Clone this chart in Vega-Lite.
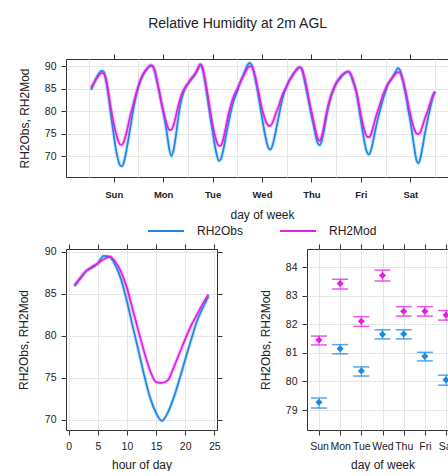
{
  "$schema": "https://vega.github.io/schema/vega-lite/v6.json",
  "padding": {"left": 16, "top": 17, "right": 0, "bottom": 0},
  "title": {"text": "Relative Humidity at 2m AGL", "fontSize": 14, "fontWeight": "normal", "color": "#222", "anchor": "middle", "offset": 22},
  "config": {
    "font": "Liberation Sans",
    "view": {"stroke": "#333", "strokeWidth": 1},
    "axis": {"domain": false, "tickColor": "#333", "tickSize": 5, "labelColor": "#222", "labelFontSize": 10.5, "titleFontSize": 12, "titleFontWeight": "normal", "titleColor": "#222", "gridColor": "#e6e6e6", "gridWidth": 1},
    "legend": {"orient": "bottom", "direction": "horizontal", "symbolType": "stroke", "symbolSize": 1296, "symbolStrokeWidth": 2, "symbolOpacity": 1, "labelFontSize": 12, "labelColor": "#222", "labelOffset": 12, "columnPadding": 32, "offset": -9, "padding": 0, "layout": {"anchor": "middle"}}
  },
  "datasets": {
    "week": [
      {"t":1,"RH2Obs":84.8,"RH2Mod":85.3},{"t":2,"RH2Obs":85.8,"RH2Mod":86.0},{"t":3,"RH2Obs":86.9,"RH2Mod":86.8},{"t":4,"RH2Obs":87.8,"RH2Mod":87.5},{"t":5,"RH2Obs":88.6,"RH2Mod":88.1},{"t":6,"RH2Obs":89.0,"RH2Mod":88.5},{"t":7,"RH2Obs":88.9,"RH2Mod":88.5},{"t":8,"RH2Obs":87.6,"RH2Mod":87.5},{"t":9,"RH2Obs":85.0,"RH2Mod":85.4},{"t":10,"RH2Obs":81.6,"RH2Mod":82.5},{"t":11,"RH2Obs":78.0,"RH2Mod":79.7},{"t":12,"RH2Obs":74.8,"RH2Mod":77.3},{"t":13,"RH2Obs":71.8,"RH2Mod":75.3},{"t":14,"RH2Obs":69.5,"RH2Mod":73.7},{"t":15,"RH2Obs":68.1,"RH2Mod":72.7},{"t":16,"RH2Obs":67.8,"RH2Mod":72.6},{"t":17,"RH2Obs":68.8,"RH2Mod":73.4},{"t":18,"RH2Obs":70.9,"RH2Mod":74.9},{"t":19,"RH2Obs":73.5,"RH2Mod":76.9},{"t":20,"RH2Obs":76.3,"RH2Mod":79.0},{"t":21,"RH2Obs":79.0,"RH2Mod":80.7},{"t":22,"RH2Obs":81.6,"RH2Mod":82.4},{"t":23,"RH2Obs":83.8,"RH2Mod":84.1},{"t":24,"RH2Obs":85.6,"RH2Mod":85.6},
      {"t":25,"RH2Obs":86.9,"RH2Mod":87.0},{"t":26,"RH2Obs":87.9,"RH2Mod":88.0},{"t":27,"RH2Obs":88.7,"RH2Mod":88.8},{"t":28,"RH2Obs":89.3,"RH2Mod":89.4},{"t":29,"RH2Obs":89.9,"RH2Mod":89.9},{"t":30,"RH2Obs":90.2,"RH2Mod":90.2},{"t":31,"RH2Obs":90.0,"RH2Mod":90.0},{"t":32,"RH2Obs":88.8,"RH2Mod":88.9},{"t":33,"RH2Obs":86.6,"RH2Mod":87.0},{"t":34,"RH2Obs":84.6,"RH2Mod":84.7},{"t":35,"RH2Obs":82.3,"RH2Mod":82.3},{"t":36,"RH2Obs":80.0,"RH2Mod":80.2},{"t":37,"RH2Obs":77.5,"RH2Mod":78.4},{"t":38,"RH2Obs":74.6,"RH2Mod":76.8},{"t":39,"RH2Obs":71.5,"RH2Mod":75.9},{"t":40,"RH2Obs":70.1,"RH2Mod":75.9},{"t":41,"RH2Obs":71.3,"RH2Mod":76.9},{"t":42,"RH2Obs":74.0,"RH2Mod":78.6},{"t":43,"RH2Obs":77.4,"RH2Mod":80.6},{"t":44,"RH2Obs":80.6,"RH2Mod":82.4},{"t":45,"RH2Obs":82.8,"RH2Mod":83.8},{"t":46,"RH2Obs":84.3,"RH2Mod":84.8},{"t":47,"RH2Obs":85.4,"RH2Mod":85.6},{"t":48,"RH2Obs":86.1,"RH2Mod":86.2},
      {"t":49,"RH2Obs":86.7,"RH2Mod":86.9},{"t":50,"RH2Obs":87.3,"RH2Mod":87.5},{"t":51,"RH2Obs":87.9,"RH2Mod":88.0},{"t":52,"RH2Obs":88.6,"RH2Mod":88.7},{"t":53,"RH2Obs":89.5,"RH2Mod":89.6},{"t":54,"RH2Obs":90.3,"RH2Mod":90.5},{"t":55,"RH2Obs":89.6,"RH2Mod":89.9},{"t":56,"RH2Obs":87.6,"RH2Mod":87.9},{"t":57,"RH2Obs":84.6,"RH2Mod":85.4},{"t":58,"RH2Obs":81.5,"RH2Mod":82.6},{"t":59,"RH2Obs":78.4,"RH2Mod":79.7},{"t":60,"RH2Obs":75.5,"RH2Mod":77.1},{"t":61,"RH2Obs":72.7,"RH2Mod":74.9},{"t":62,"RH2Obs":70.4,"RH2Mod":73.3},{"t":63,"RH2Obs":69.0,"RH2Mod":72.4},{"t":64,"RH2Obs":69.4,"RH2Mod":72.4},{"t":65,"RH2Obs":71.0,"RH2Mod":73.5},{"t":66,"RH2Obs":73.3,"RH2Mod":75.5},{"t":67,"RH2Obs":75.8,"RH2Mod":77.8},{"t":68,"RH2Obs":78.0,"RH2Mod":79.8},{"t":69,"RH2Obs":80.2,"RH2Mod":81.6},{"t":70,"RH2Obs":82.0,"RH2Mod":83.0},{"t":71,"RH2Obs":83.3,"RH2Mod":84.1},{"t":72,"RH2Obs":84.5,"RH2Mod":85.0},
      {"t":73,"RH2Obs":85.9,"RH2Mod":86.0},{"t":74,"RH2Obs":87.1,"RH2Mod":87.0},{"t":75,"RH2Obs":88.2,"RH2Mod":87.9},{"t":76,"RH2Obs":89.3,"RH2Mod":88.8},{"t":77,"RH2Obs":90.3,"RH2Mod":89.6},{"t":78,"RH2Obs":90.8,"RH2Mod":90.0},{"t":79,"RH2Obs":90.3,"RH2Mod":90.0},{"t":80,"RH2Obs":88.8,"RH2Mod":88.9},{"t":81,"RH2Obs":86.6,"RH2Mod":87.2},{"t":82,"RH2Obs":84.2,"RH2Mod":85.0},{"t":83,"RH2Obs":81.4,"RH2Mod":82.7},{"t":84,"RH2Obs":78.6,"RH2Mod":80.6},{"t":85,"RH2Obs":76.0,"RH2Mod":78.9},{"t":86,"RH2Obs":73.7,"RH2Mod":77.6},{"t":87,"RH2Obs":72.0,"RH2Mod":76.9},{"t":88,"RH2Obs":71.5,"RH2Mod":76.8},{"t":89,"RH2Obs":72.3,"RH2Mod":77.4},{"t":90,"RH2Obs":74.1,"RH2Mod":78.6},{"t":91,"RH2Obs":76.3,"RH2Mod":79.9},{"t":92,"RH2Obs":78.6,"RH2Mod":81.0},{"t":93,"RH2Obs":80.9,"RH2Mod":82.5},{"t":94,"RH2Obs":82.9,"RH2Mod":83.8},{"t":95,"RH2Obs":84.4,"RH2Mod":84.7},{"t":96,"RH2Obs":85.6,"RH2Mod":85.6},
      {"t":97,"RH2Obs":86.6,"RH2Mod":86.6},{"t":98,"RH2Obs":87.4,"RH2Mod":87.4},{"t":99,"RH2Obs":88.1,"RH2Mod":88.1},{"t":100,"RH2Obs":88.8,"RH2Mod":88.8},{"t":101,"RH2Obs":89.4,"RH2Mod":89.4},{"t":102,"RH2Obs":89.8,"RH2Mod":89.8},{"t":103,"RH2Obs":89.7,"RH2Mod":89.7},{"t":104,"RH2Obs":88.3,"RH2Mod":88.6},{"t":105,"RH2Obs":86.1,"RH2Mod":86.8},{"t":106,"RH2Obs":83.8,"RH2Mod":84.6},{"t":107,"RH2Obs":81.4,"RH2Mod":82.2},{"t":108,"RH2Obs":79.1,"RH2Mod":80.0},{"t":109,"RH2Obs":77.0,"RH2Mod":77.9},{"t":110,"RH2Obs":74.8,"RH2Mod":75.8},{"t":111,"RH2Obs":73.0,"RH2Mod":74.0},{"t":112,"RH2Obs":72.5,"RH2Mod":73.5},{"t":113,"RH2Obs":73.4,"RH2Mod":74.4},{"t":114,"RH2Obs":75.6,"RH2Mod":76.5},{"t":115,"RH2Obs":78.2,"RH2Mod":78.9},{"t":116,"RH2Obs":80.5,"RH2Mod":81.1},{"t":117,"RH2Obs":82.4,"RH2Mod":82.8},{"t":118,"RH2Obs":83.9,"RH2Mod":84.2},{"t":119,"RH2Obs":85.1,"RH2Mod":85.3},{"t":120,"RH2Obs":86.1,"RH2Mod":86.3},
      {"t":121,"RH2Obs":86.8,"RH2Mod":87.0},{"t":122,"RH2Obs":87.4,"RH2Mod":87.6},{"t":123,"RH2Obs":88.0,"RH2Mod":88.1},{"t":124,"RH2Obs":88.4,"RH2Mod":88.5},{"t":125,"RH2Obs":88.7,"RH2Mod":88.8},{"t":126,"RH2Obs":88.8,"RH2Mod":88.9},{"t":127,"RH2Obs":88.2,"RH2Mod":88.4},{"t":128,"RH2Obs":86.9,"RH2Mod":87.3},{"t":129,"RH2Obs":85.6,"RH2Mod":85.7},{"t":130,"RH2Obs":83.9,"RH2Mod":84.0},{"t":131,"RH2Obs":81.0,"RH2Mod":81.7},{"t":132,"RH2Obs":78.0,"RH2Mod":79.3},{"t":133,"RH2Obs":75.2,"RH2Mod":77.1},{"t":134,"RH2Obs":72.6,"RH2Mod":75.4},{"t":135,"RH2Obs":70.9,"RH2Mod":74.4},{"t":136,"RH2Obs":70.4,"RH2Mod":74.3},{"t":137,"RH2Obs":71.5,"RH2Mod":75.0},{"t":138,"RH2Obs":73.5,"RH2Mod":76.6},{"t":139,"RH2Obs":75.8,"RH2Mod":78.3},{"t":140,"RH2Obs":77.9,"RH2Mod":79.8},{"t":141,"RH2Obs":79.7,"RH2Mod":81.2},{"t":142,"RH2Obs":81.4,"RH2Mod":82.6},{"t":143,"RH2Obs":83.1,"RH2Mod":84.0},{"t":144,"RH2Obs":84.5,"RH2Mod":85.0},
      {"t":145,"RH2Obs":85.8,"RH2Mod":86.0},{"t":146,"RH2Obs":86.6,"RH2Mod":86.7},{"t":147,"RH2Obs":87.3,"RH2Mod":87.3},{"t":148,"RH2Obs":88.1,"RH2Mod":87.9},{"t":149,"RH2Obs":88.9,"RH2Mod":88.4},{"t":150,"RH2Obs":89.6,"RH2Mod":88.7},{"t":151,"RH2Obs":89.2,"RH2Mod":88.6},{"t":152,"RH2Obs":87.5,"RH2Mod":87.6},{"t":153,"RH2Obs":85.5,"RH2Mod":86.0},{"t":154,"RH2Obs":83.1,"RH2Mod":84.0},{"t":155,"RH2Obs":80.4,"RH2Mod":81.6},{"t":156,"RH2Obs":77.9,"RH2Mod":79.4},{"t":157,"RH2Obs":74.9,"RH2Mod":77.5},{"t":158,"RH2Obs":71.8,"RH2Mod":76.0},{"t":159,"RH2Obs":69.2,"RH2Mod":75.1},{"t":160,"RH2Obs":68.5,"RH2Mod":74.9},{"t":161,"RH2Obs":69.8,"RH2Mod":75.5},{"t":162,"RH2Obs":72.2,"RH2Mod":76.8},{"t":163,"RH2Obs":74.8,"RH2Mod":78.3},{"t":164,"RH2Obs":77.1,"RH2Mod":79.5},{"t":165,"RH2Obs":79.4,"RH2Mod":80.9},{"t":166,"RH2Obs":81.4,"RH2Mod":82.3},{"t":167,"RH2Obs":83.2,"RH2Mod":83.6},{"t":168,"RH2Obs":84.4,"RH2Mod":84.4}
    ],
    "hour": [
      {"h":1,"RH2Obs":85.9,"RH2Mod":86.0},{"h":2,"RH2Obs":86.8,"RH2Mod":86.9},{"h":3,"RH2Obs":87.7,"RH2Mod":87.7},{"h":4,"RH2Obs":88.1,"RH2Mod":88.2},{"h":5,"RH2Obs":88.6,"RH2Mod":88.6},{"h":6,"RH2Obs":89.5,"RH2Mod":89.1},{"h":7,"RH2Obs":89.4,"RH2Mod":89.4},{"h":8,"RH2Obs":88.4,"RH2Mod":88.8},{"h":9,"RH2Obs":86.7,"RH2Mod":87.6},{"h":10,"RH2Obs":84.1,"RH2Mod":85.7},{"h":11,"RH2Obs":81.1,"RH2Mod":83.1},{"h":12,"RH2Obs":78.2,"RH2Mod":80.5},{"h":13,"RH2Obs":75.2,"RH2Mod":78.0},{"h":14,"RH2Obs":72.6,"RH2Mod":75.8},{"h":15,"RH2Obs":70.85,"RH2Mod":74.5},{"h":16,"RH2Obs":69.9,"RH2Mod":74.4},{"h":17,"RH2Obs":70.85,"RH2Mod":74.7},{"h":18,"RH2Obs":72.6,"RH2Mod":76.2},{"h":19,"RH2Obs":74.8,"RH2Mod":77.9},{"h":20,"RH2Obs":77.2,"RH2Mod":79.6},{"h":21,"RH2Obs":79.5,"RH2Mod":81.2},{"h":22,"RH2Obs":81.7,"RH2Mod":82.5},{"h":23,"RH2Obs":83.3,"RH2Mod":83.8},{"h":24,"RH2Obs":84.7,"RH2Mod":84.9}
    ],
    "dow": [
      {"d":0,"s":"RH2Obs","m":79.27,"lo":79.07,"hi":79.42},{"d":1,"s":"RH2Obs","m":81.15,"lo":80.97,"hi":81.29},{"d":2,"s":"RH2Obs","m":80.37,"lo":80.19,"hi":80.51},{"d":3,"s":"RH2Obs","m":81.65,"lo":81.49,"hi":81.81},{"d":4,"s":"RH2Obs","m":81.66,"lo":81.49,"hi":81.81},{"d":5,"s":"RH2Obs","m":80.88,"lo":80.72,"hi":81.02},{"d":6,"s":"RH2Obs","m":80.06,"lo":79.87,"hi":80.22},
      {"d":0,"s":"RH2Mod","m":81.45,"lo":81.28,"hi":81.59},{"d":1,"s":"RH2Mod","m":83.43,"lo":83.24,"hi":83.58},{"d":2,"s":"RH2Mod","m":82.11,"lo":81.93,"hi":82.27},{"d":3,"s":"RH2Mod","m":83.71,"lo":83.52,"hi":83.9},{"d":4,"s":"RH2Mod","m":82.46,"lo":82.29,"hi":82.62},{"d":5,"s":"RH2Mod","m":82.46,"lo":82.29,"hi":82.62},{"d":6,"s":"RH2Mod","m":82.33,"lo":82.15,"hi":82.48}
    ]
  },
  "resolve": {"legend": {"color": "independent"}, "scale": {"color": "independent"}},
  "spacing": 5,
  "vconcat": [
    {
      "width": 392, "height": 118,
      "data": {"name": "week"},
      "transform": [{"fold": ["RH2Obs", "RH2Mod"], "as": ["s", "v"]}],
      "layer": [
        {
          "mark": {"type": "line", "strokeWidth": 4, "opacity": 0.2, "interpolate": "monotone"},
          "encoding": {
            "x": {"field": "t", "type": "quantitative", "scale": {"domain": [-11.17, 179.17], "nice": false, "zero": false},
                  "axis": {"orient": "bottom", "values": [0, 24, 48, 72, 96, 120, 144, 168], "grid": true, "ticks": false, "labels": false, "title": null}},
            "y": {"field": "v", "type": "quantitative", "scale": {"domain": [65.42, 91.64], "nice": false, "zero": false},
                  "axis": {"orient": "left", "values": [70, 75, 80, 85, 90], "grid": true, "title": "RH2Obs, RH2Mod", "titlePadding": 13, "labelPadding": 5}},
            "color": {"field": "s", "type": "nominal", "title": null, "scale": {"domain": ["RH2Obs", "RH2Mod"], "range": ["#1E88E5", "#E51EE5"]}}
          }
        },
        {
          "mark": {"type": "line", "strokeWidth": 1.8, "interpolate": "monotone"},
          "encoding": {
            "x": {"field": "t", "type": "quantitative",
                  "axis": {"orient": "bottom", "values": [12, 36, 60, 84, 108, 132, 156], "grid": false, "labelExpr": "['Sun','Mon','Tue','Wed','Thu','Fri','Sat'][floor(datum.value/24)]", "labelFontWeight": "bold", "labelFontSize": 9.5, "labelPadding": 7, "title": "day of week", "titlePadding": 11}},
            "y": {"field": "v", "type": "quantitative", "axis": null},
            "color": {"field": "s", "type": "nominal", "title": null, "scale": {"domain": ["RH2Obs", "RH2Mod"], "range": ["#1E88E5", "#E51EE5"]}}
          }
        },
        {
          "mark": {"type": "line", "opacity": 0},
          "encoding": {
            "x": {"field": "t", "type": "quantitative",
                  "axis": {"orient": "top", "values": [12, 36, 60, 84, 108, 132, 156], "grid": false, "labels": false, "title": null}},
            "y": {"field": "v", "type": "quantitative", "axis": null},
            "detail": {"field": "s"}
          }
        }
      ],
      "resolve": {"axis": {"x": "independent", "y": "independent"}}
    },
    {
      "spacing": 35,
      "hconcat": [
        {
          "width": 151, "height": 181,
          "data": {"name": "hour"},
          "transform": [{"fold": ["RH2Obs", "RH2Mod"], "as": ["s", "v"]}],
          "layer": [
            {
              "mark": {"type": "line", "strokeWidth": 4, "opacity": 0.2, "interpolate": "monotone"},
              "encoding": {
                "x": {"field": "h", "type": "quantitative", "scale": {"domain": [-0.46, 25.46], "nice": false, "zero": false},
                      "axis": {"orient": "bottom", "values": [0, 5, 10, 15, 20, 25], "grid": true, "title": "hour of day", "labelPadding": 6, "titlePadding": 8}},
                "y": {"field": "v", "type": "quantitative", "scale": {"domain": [68.81, 90.32], "nice": false, "zero": false},
                      "axis": {"orient": "left", "values": [70, 75, 80, 85, 90], "grid": true, "title": "RH2Obs, RH2Mod", "titlePadding": 14, "labelPadding": 5}},
                "color": {"field": "s", "type": "nominal", "legend": null, "scale": {"domain": ["RH2Obs", "RH2Mod"], "range": ["#1E88E5", "#E51EE5"]}}
              }
            },
            {
              "mark": {"type": "line", "strokeWidth": 1.8, "interpolate": "monotone"},
              "encoding": {
                "x": {"field": "h", "type": "quantitative", "axis": {"orient": "top", "values": [0, 5, 10, 15, 20, 25], "grid": false, "labels": false, "title": null}},
                "y": {"field": "v", "type": "quantitative", "axis": {"orient": "right", "values": [70, 75, 80, 85, 90], "grid": false, "labels": false, "title": null}},
                "color": {"field": "s", "type": "nominal", "legend": null, "scale": {"domain": ["RH2Obs", "RH2Mod"], "range": ["#1E88E5", "#E51EE5"]}}
              }
            }
          ],
          "resolve": {"axis": {"x": "independent", "y": "independent"}}
        },
        {
          "width": 151, "height": 181,
          "data": {"name": "dow"},
          "layer": [
            {
              "mark": {"type": "rule", "strokeWidth": 1, "opacity": 0.8},
              "encoding": {
                "x": {"field": "d", "type": "quantitative", "scale": {"domain": [-0.566, 6.566], "nice": false, "zero": false},
                      "axis": {"orient": "bottom", "values": [0, 1, 2, 3, 4, 5, 6], "grid": true, "labelExpr": "['Sun','Mon','Tue','Wed','Thu','Fri','Sat'][datum.value]", "title": "day of week", "labelPadding": 6, "titlePadding": 8}},
                "y": {"field": "lo", "type": "quantitative", "scale": {"domain": [78.3, 84.64], "nice": false, "zero": false},
                      "axis": {"orient": "left", "values": [79, 80, 81, 82, 83, 84], "grid": true, "title": "RH2Obs, RH2Mod", "titlePadding": 13, "labelPadding": 5}},
                "y2": {"field": "hi"},
                "color": {"field": "s", "type": "nominal", "legend": null, "scale": {"domain": ["RH2Obs", "RH2Mod"], "range": ["#1E88E5", "#E51EE5"]}}
              }
            },
            {
              "mark": {"type": "tick", "orient": "horizontal", "size": 16, "thickness": 1.5, "opacity": 0.75},
              "encoding": {
                "x": {"field": "d", "type": "quantitative", "axis": {"orient": "top", "values": [0, 1, 2, 3, 4, 5, 6], "grid": false, "labels": false, "title": null}},
                "y": {"field": "lo", "type": "quantitative", "axis": null},
                "color": {"field": "s", "type": "nominal", "legend": null, "scale": {"domain": ["RH2Obs", "RH2Mod"], "range": ["#1E88E5", "#E51EE5"]}}
              }
            },
            {
              "mark": {"type": "tick", "orient": "horizontal", "size": 16, "thickness": 1.5, "opacity": 0.75},
              "encoding": {
                "x": {"field": "d", "type": "quantitative", "axis": null},
                "y": {"field": "hi", "type": "quantitative", "axis": null},
                "color": {"field": "s", "type": "nominal", "legend": null, "scale": {"domain": ["RH2Obs", "RH2Mod"], "range": ["#1E88E5", "#E51EE5"]}}
              }
            },
            {
              "mark": {"type": "point", "shape": "diamond", "filled": true, "size": 50, "opacity": 1},
              "encoding": {
                "x": {"field": "d", "type": "quantitative", "axis": null},
                "y": {"field": "m", "type": "quantitative", "axis": null},
                "color": {"field": "s", "type": "nominal", "legend": null, "scale": {"domain": ["RH2Obs", "RH2Mod"], "range": ["#1E88E5", "#E51EE5"]}}
              }
            }
          ],
          "resolve": {"axis": {"x": "independent", "y": "independent"}}
        }
      ]
    }
  ]
}
